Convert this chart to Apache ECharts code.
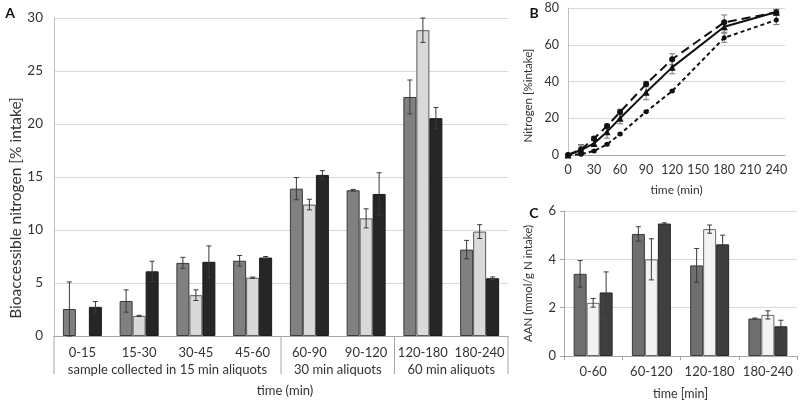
<!DOCTYPE html>
<html><head><meta charset="utf-8">
<script src="https://cdn.jsdelivr.net/npm/echarts/dist/echarts.min.js"></script>
<style>html,body{margin:0;padding:0;background:#fff}#c{width:800px;height:401px}</style>
</head><body><div id="c"></div>
<script>
// ---------- Panel A ----------
const catsA = ['0-15','15-30','30-45','45-60','60-90','90-120','120-180','180-240'];
const groupLabelsA = ['sample collected in 15 min aliquots','30 min aliquots','60 min aliquots'];
const groupSizesA = [4,2,2];
const a1 = [2.55, 3.3, 6.9, 7.1, 13.9, 13.75, 22.55, 8.15];
const a1Err = [2.55, 1.05, 0.52, 0.5, 1.05, 0.08, 1.6, 0.87];
const a2 = [null, 1.9, 3.85, 5.5, 12.4, 11.1, 28.85, 9.85];
const a2Err = [null, 0.05, 0.5, 0.06, 0.5, 0.9, 1.15, 0.65];
const a3 = [2.75, 6.1, 7.0, 7.4, 15.2, 13.4, 20.55, 5.45];
const a3Err = [0.5, 0.95, 1.5, 0.1, 0.4, 2.0, 1.0, 0.12];
// ---------- Panel B ----------
const timeB = [0, 15, 30, 45, 60, 90, 120, 180, 240];
const b1 = [0, 3.0, 9.0, 15.8, 23.4, 38.6, 52.1, 72.2, 77.6];
const b1Err = [0, 2, 1, 1, 1.5, 1.5, 3, 4, 1.5];
const b2 = [0, 2.7, 6.3, 12.7, 20.0, 34.1, 47.7, 69.8, 77.8];
const b2Err = [0, 3, 1.5, 3.5, 3, 4, 3.5, 3, 1.5];
const b3 = [0, 0.4, 2.2, 5.8, 11.4, 23.6, 34.8, 63.8, 73.5];
const b3Err = [0, 0.3, 0.5, 0.5, 0.5, 0.5, 0.5, 2.5, 2.5];
// ---------- Panel C ----------
const catsC = ['0-60','60-120','120-180','180-240'];
const c1 = [3.4, 5.05, 3.75, 1.55];
const c1Err = [0.55, 0.3, 0.7, 0.02];
const c2 = [2.2, 4.0, 5.25, 1.7];
const c2Err = [0.18, 0.85, 0.17, 0.17];
const c3 = [2.63, 5.48, 4.62, 1.23];
const c3Err = [0.85, 0.03, 0.38, 0.25];

const FONT = 'Lato';
const TXT = '#333';
const GRIDC = '#d9d9d9';
const AXC = '#a6a6a6';
const BARW = 13;

function barSeries(data, color, border, xi, yi) {
  return {type:'bar', xAxisIndex:xi, yAxisIndex:yi, data:data.map(v=>v==null?'-':v),
    barWidth:BARW, barGap:'0%', itemStyle:{color:color, borderColor:border, borderWidth:1}};
}
function errSeries(vals, errs, idx, xi, yi) {
  const d = [];
  vals.forEach((v,i)=>{ if (v!=null && errs[i]!=null) d.push([i, v, errs[i]]); });
  return {type:'custom', xAxisIndex:xi, yAxisIndex:yi, z:10, silent:true, data:d,
    renderItem(params, api) {
      const i = api.value(0), v = api.value(1), e = api.value(2);
      const c = api.coord([i, v]);
      const x = c[0] + (idx - 1) * BARW;
      const top = api.coord([i, v + e])[1];
      const bot = api.coord([i, Math.max(0, v - e)])[1];
      const st = {stroke:'#3a3a3a', lineWidth:1};
      return {type:'group', children:[
        {type:'line', shape:{x1:x,y1:top,x2:x,y2:bot}, style:st},
        {type:'line', shape:{x1:x-2.5,y1:top,x2:x+2.5,y2:top}, style:st},
        {type:'line', shape:{x1:x-2.5,y1:bot,x2:x+2.5,y2:bot}, style:st}
      ]};
    }};
}
function lineErr(xs, vals, errs, xi, yi) {
  return {type:'custom', xAxisIndex:xi, yAxisIndex:yi, z:1, silent:true,
    data: xs.map((x,i)=>[x, vals[i], errs[i]]),
    renderItem(params, api) {
      const x = api.value(0), v = api.value(1), e = api.value(2);
      if (!e) return null;
      const t = api.coord([x, v + e]), b = api.coord([x, v - e]);
      const st = {stroke:'#777', lineWidth:1};
      return {type:'group', children:[
        {type:'line', shape:{x1:t[0],y1:t[1],x2:b[0],y2:b[1]}, style:st},
        {type:'line', shape:{x1:t[0]-3,y1:t[1],x2:t[0]+3,y2:t[1]}, style:st},
        {type:'line', shape:{x1:b[0]-3,y1:b[1],x2:b[0]+3,y2:b[1]}, style:st}
      ]};
    }};
}

const chart = echarts.init(document.getElementById('c'));
const lbl = (size)=>({color:TXT, fontFamily:FONT, fontSize:size});

const option = {
  animation:false,
  textStyle:{fontFamily:FONT},
  grid:[
    {left:54, top:18, width:454, height:318},
    {left:568, top:8, width:217, height:147},
    {left:564, top:211, width:233, height:149}
  ],
  xAxis:[
    {gridIndex:0, type:'category', data:catsA, axisLine:{lineStyle:{color:AXC}}, axisTick:{show:false},
     axisLabel:{...lbl(13), margin:10, interval:0}},
    {gridIndex:1, type:'value', min:0, max:250, interval:30, splitLine:{show:false},
     axisLine:{onZero:false, lineStyle:{color:AXC}}, axisTick:{show:false},
     axisLabel:{...lbl(12.5), margin:8, showMaxLabel:false},
     name:'time (min)', nameLocation:'middle', nameGap:29, nameTextStyle:{...lbl(12)}},
    {gridIndex:2, type:'category', data:catsC, axisLine:{lineStyle:{color:AXC}},
     axisTick:{show:true, length:4, lineStyle:{color:AXC}},
     axisLabel:{...lbl(13), margin:9, interval:0},
     name:'time [min]', nameLocation:'middle', nameGap:31, nameTextStyle:{...lbl(12.5)}}
  ],
  yAxis:[
    {gridIndex:0, type:'value', min:0, max:30, interval:5, splitLine:{lineStyle:{color:GRIDC}},
     axisLine:{show:true, lineStyle:{color:'#c0c0c0'}}, axisTick:{show:false}, axisLabel:{...lbl(13.5), margin:11}},
    {gridIndex:1, type:'value', min:0, max:80, interval:20, splitLine:{lineStyle:{color:GRIDC}},
     axisLine:{show:true, lineStyle:{color:'#c0c0c0'}}, axisTick:{show:false}, axisLabel:{...lbl(12.5), margin:9},
     name:'Nitrogen [%intake]', nameLocation:'middle', nameGap:34, nameTextStyle:{...lbl(11.5), padding:[0,28,0,0]}},
    {gridIndex:2, type:'value', min:0, max:6, interval:2, splitLine:{lineStyle:{color:GRIDC}},
     axisLine:{show:true, lineStyle:{color:AXC}}, axisTick:{show:true, length:4, lineStyle:{color:AXC}},
     axisLabel:{...lbl(13), margin:8},
     name:'AAN (mmol/g N intake)', nameLocation:'middle', nameGap:30, nameTextStyle:{...lbl(11.5)}}
  ],
  series:[
    barSeries(a1, '#808080', '#3a3a3a', 0, 0),
    barSeries(a2, '#d9d9d9', '#5a5a5a', 0, 0),
    barSeries(a3, '#262626', '#1a1a1a', 0, 0),
    errSeries(a1, a1Err, 0, 0, 0),
    errSeries(a2, a2Err, 1, 0, 0),
    errSeries(a3, a3Err, 2, 0, 0),
    lineErr(timeB, b1, b1Err, 1, 1),
    lineErr(timeB, b2, b2Err, 1, 1),
    lineErr(timeB, b3, b3Err, 1, 1),
    {type:'line', xAxisIndex:1, yAxisIndex:1, data:timeB.map((x,i)=>[x,b1[i]]), symbol:'circle', symbolSize:6,
     itemStyle:{color:'#111'}, lineStyle:{color:'#111', width:2, type:[9,5]}, z:5},
    {type:'line', xAxisIndex:1, yAxisIndex:1, data:timeB.map((x,i)=>[x,b2[i]]), symbol:'triangle', symbolSize:7,
     itemStyle:{color:'#111'}, lineStyle:{color:'#111', width:2}, z:5},
    {type:'line', xAxisIndex:1, yAxisIndex:1, data:timeB.map((x,i)=>[x,b3[i]]), symbol:'circle', symbolSize:5,
     itemStyle:{color:'#111'}, lineStyle:{color:'#111', width:2, type:[4,3]}, z:5},
    barSeries(c1, '#6f6f6f', '#3a3a3a', 2, 2),
    barSeries(c2, '#f2f2f2', '#6a6a6a', 2, 2),
    barSeries(c3, '#3f3f3f', '#2a2a2a', 2, 2),
    errSeries(c1, c1Err, 0, 2, 2),
    errSeries(c2, c2Err, 1, 2, 2),
    errSeries(c3, c3Err, 2, 2, 2)
  ]
};
chart.setOption(option);

// hierarchical labels / separators for panel A, positioned through the axis scale
const cx = i => chart.convertToPixel({xAxisIndex:0}, catsA[i]);
const band = cx(1) - cx(0);
const x0 = cx(0) - band/2;
const yAxisPx = chart.convertToPixel({yAxisIndex:0}, 0);
const g = [];
let k = 0;
g.push({type:'line', shape:{x1:x0, y1:yAxisPx, x2:x0, y2:yAxisPx+38}, style:{stroke:AXC, lineWidth:1}});
groupSizesA.forEach((n, gi)=>{
  const xs = x0 + k*band, xe = x0 + (k+n)*band;
  g.push({type:'line', shape:{x1:xe, y1:yAxisPx, x2:xe, y2:yAxisPx+38}, style:{stroke:AXC, lineWidth:1}});
  g.push({type:'text', x:(xs+xe)/2, y:yAxisPx+34, style:{text:groupLabelsA[gi], textAlign:'center', textVerticalAlign:'middle', fill:TXT, font:'13px '+FONT}});
  k += n;
});
g.push({type:'text', x:(x0 + x0 + catsA.length*band)/2 + 4, y:yAxisPx+55, style:{text:'time (min)', textAlign:'center', textVerticalAlign:'middle', fill:TXT, font:'13px '+FONT}});
g.push({type:'text', x:16, y:208, rotation:Math.PI/2, style:{text:'Bioaccessible nitrogen [% intake]', textAlign:'center', textVerticalAlign:'middle', fill:TXT, font:'15.5px '+FONT}});
g.push({type:'text', x:10, y:13, style:{text:'A', textAlign:'center', textVerticalAlign:'middle', fill:'#111', font:'bold 14px '+FONT}});
g.push({type:'text', x:534, y:13, style:{text:'B', textAlign:'center', textVerticalAlign:'middle', fill:'#111', font:'bold 14px '+FONT}});
g.push({type:'text', x:534, y:213, style:{text:'C', textAlign:'center', textVerticalAlign:'middle', fill:'#111', font:'bold 14px '+FONT}});
chart.setOption({graphic:g});
</script>
</body></html>
